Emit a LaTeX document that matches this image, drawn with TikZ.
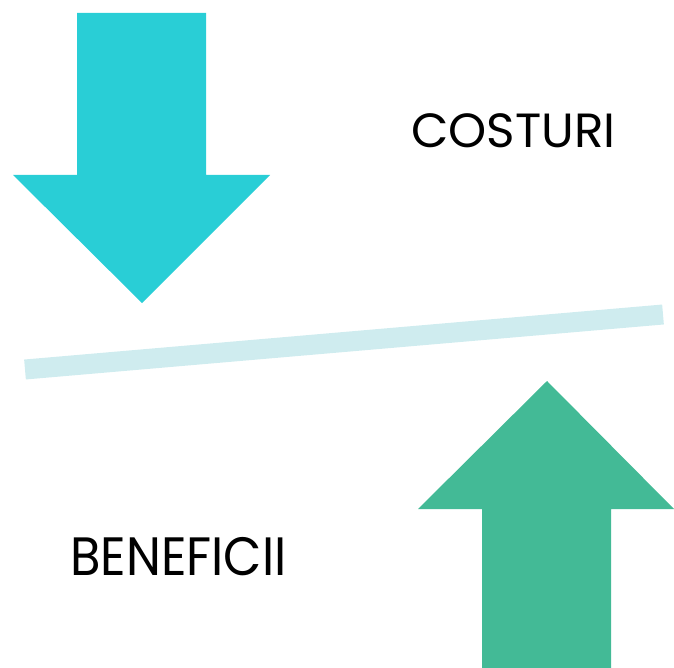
\documentclass[tikz,border=0pt]{standalone}
\usepackage{fontspec}
\setmainfont{Poppins}
\definecolor{downcyan}{HTML}{29CED6}
\definecolor{upgreen}{HTML}{43BA96}
\definecolor{barcyan}{HTML}{CFECEF}
\begin{document}
\begin{tikzpicture}[x=1pt,y=-1pt,
  lbl/.style={inner sep=0pt, anchor=base west, text=black}]
\useasboundingbox (0,0) rectangle (674,668);
% down arrow
\fill[downcyan] (77,13) -- (206,13) -- (206,175) -- (270,175) -- (142,303) -- (13,175) -- (77,175) -- cycle;
% up arrow
\fill[upgreen] (482,668) -- (482,509) -- (418,509) -- (547,381) -- (674,509) -- (611,509) -- (611,668) -- cycle;
% bar
\draw[barcyan, line width=20] (25,369.5) -- (663,314.5);
\node[lbl, font=\fontsize{48}{48}\selectfont, xscale=1.01] (costuri) at (411,148) {COSTURI};
\node[lbl, font=\fontsize{54}{54}\selectfont, xscale=0.92] (beneficii) at (70,575) {BENEFICII};
\end{tikzpicture}
\end{document}
